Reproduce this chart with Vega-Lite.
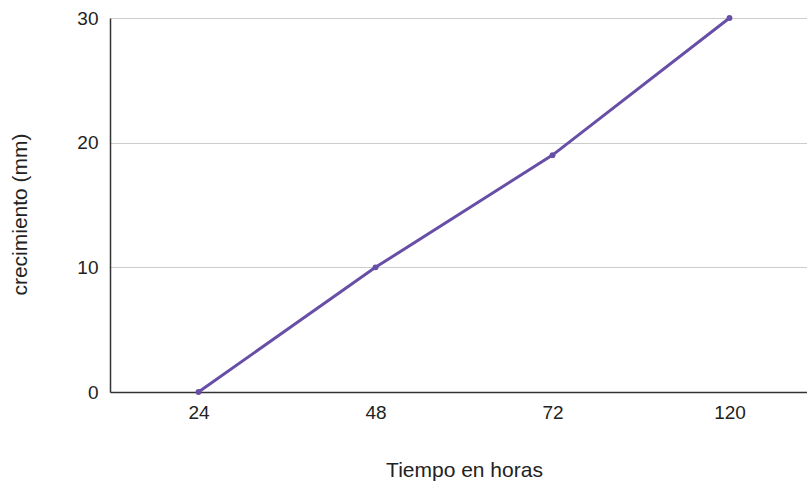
{
  "$schema": "https://vega.github.io/schema/vega-lite/v6.json",
  "width": 708,
  "height": 374,
  "autosize": {"type": "none"},
  "padding": {"left": 110, "top": 18, "right": 0, "bottom": 91},
  "background": "white",
  "config": {
    "view": {"stroke": null},
    "font": "Liberation Sans",
    "axis": {
      "labelFont": "Liberation Sans",
      "titleFont": "Liberation Sans",
      "labelFontSize": 19,
      "titleFontSize": 21,
      "labelColor": "#222222",
      "titleColor": "#222222",
      "titleFontWeight": "normal",
      "ticks": false,
      "domainColor": "#333333",
      "domainWidth": 1.5,
      "gridColor": "#cccccc",
      "gridWidth": 1.2
    }
  },
  "data": {
    "values": [
      {"hora": "24", "crecimiento": 0},
      {"hora": "48", "crecimiento": 10},
      {"hora": "72", "crecimiento": 19},
      {"hora": "120", "crecimiento": 30}
    ]
  },
  "mark": {"type": "line", "color": "#674ea7", "strokeWidth": 3, "point": {"filled": true, "size": 34, "color": "#674ea7"}},
  "encoding": {
    "x": {
      "field": "hora",
      "type": "ordinal",
      "sort": null,
      "scale": {"type": "point", "padding": 0.5},
      "axis": {"title": "Tiempo en horas", "labelAngle": 0, "labelPadding": 11, "titlePadding": 37, "grid": false}
    },
    "y": {
      "field": "crecimiento",
      "type": "quantitative",
      "scale": {"domain": [0, 30], "nice": false},
      "axis": {"title": "crecimiento (mm)", "values": [0, 10, 20, 30], "labelPadding": 12, "titlePadding": 46, "titleY": 196, "grid": true}
    }
  }
}
